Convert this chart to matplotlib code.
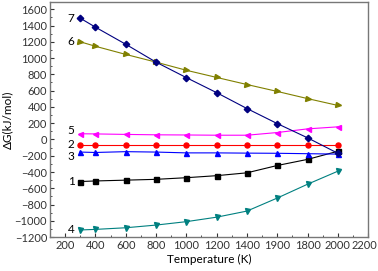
import matplotlib
matplotlib.use("Agg")
import matplotlib.pyplot as plt
import matplotlib.transforms as mtransforms
from matplotlib.ticker import MultipleLocator

plt.rcParams['font.family'] = ['Lato', 'DejaVu Sans']

T = [300, 400, 600, 800, 1000, 1200, 1400, 1600, 1800, 2000]

g1 = [-517, -510, -500, -490, -470, -445, -410, -320, -245, -145]
g2 = [-65, -65, -65, -65, -65, -65, -65, -65, -65, -65]
g3 = [-155, -160, -150, -155, -165, -165, -168, -170, -175, -180]
g4 = [-1112, -1105, -1085, -1052, -1010, -955, -880, -720, -550, -390]
g5 = [70, 68, 62, 57, 55, 52, 52, 85, 130, 155]
g6 = [1200, 1145, 1045, 950, 850, 762, 675, 590, 502, 418]
g7 = [1490, 1380, 1170, 950, 760, 575, 380, 195, 20, -170]

xtick_vals = [200, 400, 600, 800, 1000, 1200, 1400, 1600, 1800, 2000, 2200]
xtick_labels = ["200", "400", "600", "800", "1000", "1200", "1400", "1900", "1800", "2000", "2200"]

# name, values, colour, marker, vertical nudge of the number label (points)
series = [
    ("1", g1, "black", "s", 0),
    ("2", g2, "#ff0000", "o", 0),
    ("3", g3, "#0000ff", "^", -3),
    ("4", g4, "#008080", "v", 0),
    ("5", g5, "#ff00ff", "<", 2),
    ("6", g6, "#808000", ">", 0),
    ("7", g7, "#000080", "D", 0),
]

fig = plt.figure(figsize=(3.78, 2.71), dpi=100)
ax = fig.add_axes([0.132, 0.125, 0.842, 0.868])

for name, vals, col, mk, dy in series:
    ax.plot(T, vals, color=col, marker=mk, markersize=3.6 if mk != "D" else 3.3,
            linewidth=0.8)
    ax.annotate(name, (T[0], vals[0]), xytext=(-4, dy), textcoords="offset points",
                ha="right", va="center", fontsize=8.5)

ax.set_xlim(100, 2200)
ax.set_ylim(-1200, 1690)
ax.set_xticks(xtick_vals)
ax.set_xticklabels(xtick_labels)
ax.set_yticks(range(-1200, 1601, 200))
ax.xaxis.set_minor_locator(MultipleLocator(100))
ax.yaxis.set_minor_locator(MultipleLocator(100))
ax.tick_params(which="both", direction="in", labelsize=8, pad=2, colors="#333333")
ax.tick_params(which="major", length=3)
ax.tick_params(which="minor", length=1.5)
for sp in ax.spines.values():
    sp.set_color("#777777")
    sp.set_linewidth(1)

# keep the last tick label inside the picture
last = ax.get_xticklabels()[-1]
last.set_transform(last.get_transform() + mtransforms.ScaledTranslation(-3 / 72, 0, fig.dpi_scale_trans))

ax.set_xlabel("Temperature (K)", fontsize=8.5, labelpad=2)
ax.set_ylabel("ΔG(kJ/mol)", fontsize=8.5, labelpad=1)

fig.savefig("out.png", dpi=100)
